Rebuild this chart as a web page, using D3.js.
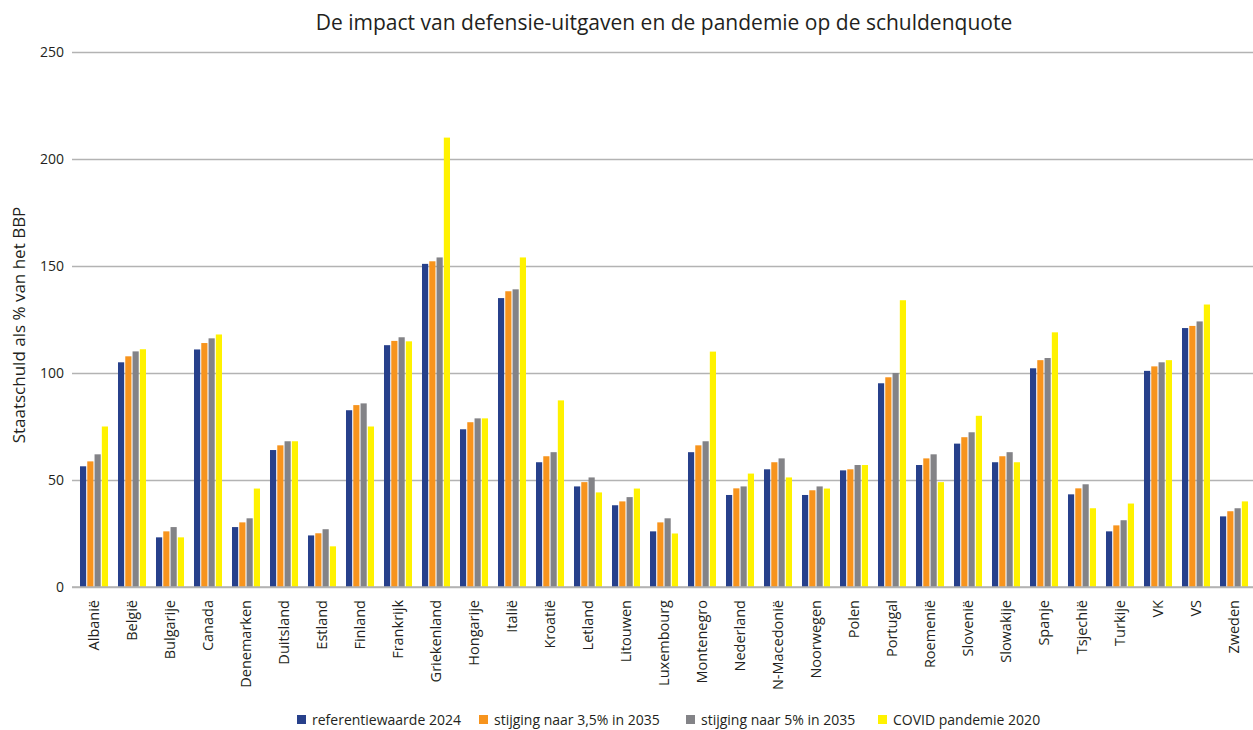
<!DOCTYPE html>
<html>
<head>
<meta charset="utf-8">
<script src="https://cdn.jsdelivr.net/npm/d3@7"></script>
<style>
    body { margin: 0; background: #fff; }
    text { font-family: "Open Sans", "Noto Sans", sans-serif; fill: #231f20; }
</style>
</head>
<body>
<div id="chart"></div>
<script>

// Data
const countries = ['Albanië', 'België', 'Bulgarije', 'Canada', 'Denemarken', 'Duitsland', 'Estland',
    'Finland', 'Frankrijk', 'Griekenland', 'Hongarije', 'Italië', 'Kroatië', 'Letland', 'Litouwen',
    'Luxembourg', 'Montenegro', 'Nederland', 'N-Macedonië', 'Noorwegen', 'Polen', 'Portugal',
    'Roemenië', 'Slovenië', 'Slowakije', 'Spanje', 'Tsjechië', 'Turkije', 'VK', 'VS', 'Zweden'];

const seriesNames = ['referentiewaarde 2024', 'stijging naar 3,5% in 2035',
    'stijging naar 5% in 2035', 'COVID pandemie 2020'];

const referentie = [56.4, 105, 23.2, 111, 28, 64, 24.1, 82.6, 113, 151, 73.7, 135, 58.3, 47, 38.2,
    26, 63, 43, 55, 43, 54.5, 95.2, 57, 67, 58.3, 102.2, 43.3, 26, 101, 121, 33];
const stijging35 = [58.7, 107.8, 26, 114, 30.2, 66.2, 25.1, 85, 115, 152.2, 77, 138.2, 61.1, 49, 40,
    30.2, 66.2, 46.1, 58.3, 45.2, 55, 98, 60.1, 70, 61.1, 106, 46.1, 28.8, 103.1, 122, 35.4];
const stijging5 = [62, 110.1, 28, 116.2, 32.1, 68.1, 27, 85.8, 116.7, 154, 78.8, 139.1, 63, 51.2, 42,
    32.1, 68.1, 47, 60.1, 47, 57, 100, 62, 72.3, 63, 107, 48, 31.2, 105, 124.1, 36.8];
const covid = [75, 111.1, 23.2, 118, 46, 68.1, 19, 75, 114.8, 210, 78.8, 154, 87.2, 44.2, 46,
    25, 110, 53, 51.2, 46, 57, 134, 49, 80, 58.3, 119, 36.8, 39, 106, 132, 40];

const yTicks = [0, 50, 100, 150, 200, 250];

const colors = ['#27408b', '#f7941d', '#838387', '#fff200'];

// Block
let width = 1253,
    height = 730;

let plot = {left: 75, right: 1253, top: 52, bottom: 587};

const svg = d3.select('#chart')
    .append('svg')
    .attr('width', width)
    .attr('height', height);

let allSeries = [referentie, stijging35, stijging5, covid];

let rows = countries.map((c, i) => {
    return {country: c, values: allSeries.map((s, k) => ({key: k, value: s[i]}))};
});

// SCALES
let x0 = d3.scaleBand()
    .domain(countries)
    .range([plot.left, plot.right])
    .paddingInner(0.263)
    .paddingOuter(0.1315);

let x1 = d3.scaleBand()
    .domain([0, 1, 2, 3])
    .range([0, x0.bandwidth()])
    .paddingInner(0.15);

let y = d3.scaleLinear()
    .domain([0, 250])
    .range([plot.bottom, plot.top]);

// GRID + Y AXIS
let yAxis = svg.append('g')
    .attr('transform', 'translate(72,0)')
    .call(d3.axisLeft(y).tickValues(yTicks).tickSize(-(width - 72)).tickPadding(8));

yAxis.select('.domain').remove();
yAxis.selectAll('.tick line')
    .attr('stroke', '#b3b3b3')
    .attr('stroke-width', 1.5);
yAxis.selectAll('.tick text')
    .style('font-size', '14px')
    .attr('fill', '#231f20');

// BARS
svg.append('g')
    .selectAll('g')
    .data(rows).enter()
    .append('g')
    .attr('transform', d => 'translate(' + x0(d.country) + ',0)')
    .selectAll('rect')
    .data(d => d.values).enter()
    .append('rect')
    .attr('x', d => x1(d.key))
    .attr('y', d => y(d.value))
    .attr('width', x1.bandwidth())
    .attr('height', d => y(0) - y(d.value))
    .attr('fill', d => colors[d.key]);

// baseline on top
svg.append('line')
    .attr('x1', 72).attr('x2', width)
    .attr('y1', y(0)).attr('y2', y(0))
    .attr('stroke', '#b3b3b3')
    .attr('stroke-width', 1.5);

// X AXIS LABELS
let xAxis = svg.append('g')
    .attr('transform', 'translate(0,' + plot.bottom + ')')
    .call(d3.axisBottom(x0).tickSize(0).tickPadding(0));

xAxis.select('.domain').remove();
xAxis.selectAll('.tick text')
    .style('font-size', '14.5px')
    .attr('text-anchor', 'end')
    .attr('dy', '0.35em')
    .attr('transform', 'translate(0,13) rotate(-90)');

// TITLE
svg.append('text')
    .attr('x', 664)
    .attr('y', 30)
    .attr('text-anchor', 'middle')
    .style('font-size', '21px')
    .text('De impact van defensie-uitgaven en de pandemie op de schuldenquote');

// Y LABEL
svg.append('text')
    .attr('transform', 'translate(25,' + 325 + ') rotate(-90)')
    .attr('text-anchor', 'middle')
    .style('font-size', '17px')
    .text('Staatschuld als % van het BBP');

// LEGEND
let legendX = [297, 479, 686, 878];
let legend = svg.append('g');
seriesNames.forEach((name, i) => {
    let g = legend.append('g').attr('transform', 'translate(' + legendX[i] + ',715)');
    g.append('rect')
        .attr('x', 0).attr('y', 0)
        .attr('width', 9).attr('height', 9)
        .attr('fill', colors[i]);
    g.append('text')
        .attr('x', 15)
        .attr('y', 9.5)
        .style('font-size', '14px')
        .text(name);
});

</script>
</body>
</html>
